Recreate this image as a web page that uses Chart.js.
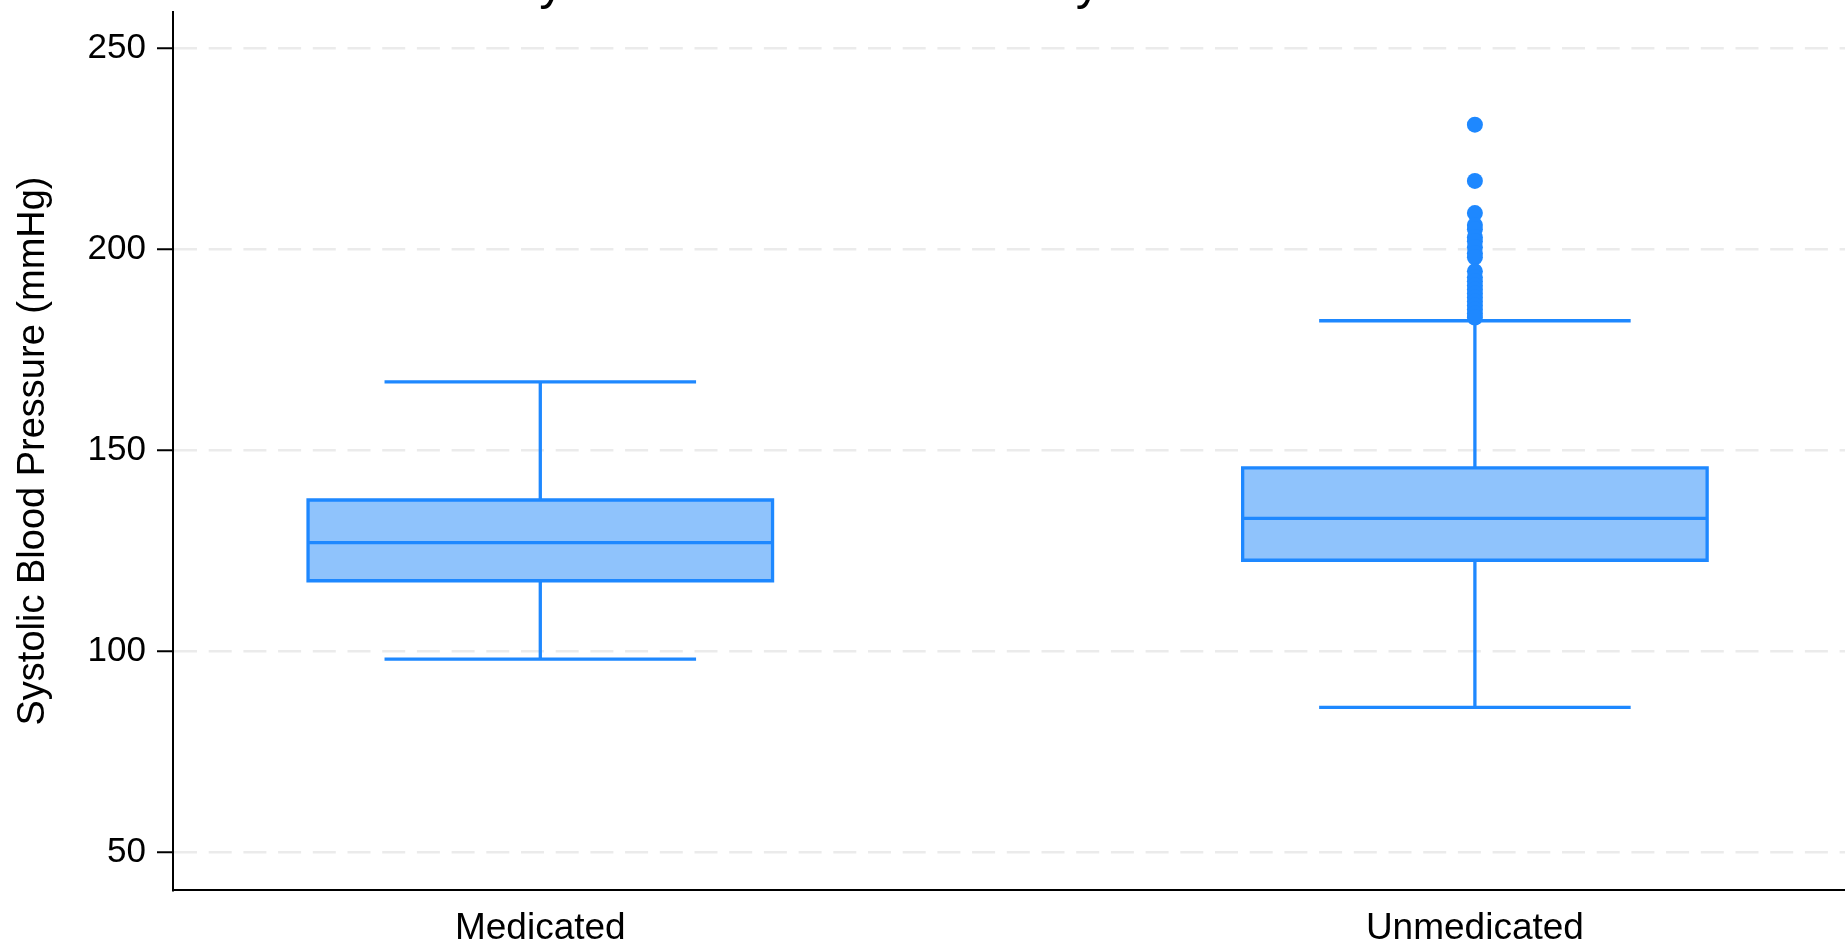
<!DOCTYPE html>
<html>
<head>
<meta charset="utf-8">
<title>Systolic Blood Pressure by Medication Status</title>
<script src="https://cdn.jsdelivr.net/npm/chart.js@4.4.1/dist/chart.umd.min.js"></script>
<style>
  html, body { margin: 0; padding: 0; background: #ffffff; overflow: hidden; }
  canvas { display: block; }
</style>
</head>
<body>
<canvas id="chart" width="1845" height="952"></canvas>
<script>
// Groups and five-number summaries (mmHg)
const groups = ['Medicated', 'Unmedicated'];
const q1 = [117.5, 122.6];
const medians = [127.0, 133.0];
const q3 = [137.6, 145.6];
const whiskerLow = [98.0, 86.0];
const whiskerHigh = [167.0, 182.2];

// Points beyond the upper whisker (Unmedicated group)
const unmedicatedOutliers = [231, 217, 209, 206, 205, 203, 202, 200.5, 199, 198, 194.5,
  193, 192, 191, 190, 189, 188, 187, 186, 185, 184, 183];

const yTicks = [50, 100, 150, 200, 250];
const chartTitle = 'Systolic Blood Pressure by Medication Status';
const yTitle = 'Systolic Blood Pressure (mmHg)';

const strokeBlue = '#1E88FF';
const fillBlue = '#8FC3FC';
const fontFamily = '"Liberation Sans", Arial, Helvetica, sans-serif';

const boxData = groups.map((g, i) => ({ x: i, y: [q1[i], q3[i]] }));
const outlierData = unmedicatedOutliers.map(v => ({ x: 1, y: v }));

// Outlines, medians, whiskers and caps, positioned from the box elements and scales
const boxDetails = {
  id: 'boxDetails',
  afterDatasetDraw(chart, args) {
    if (args.index !== 0) return;
    const { ctx, scales: { x, y } } = chart;
    const meta = chart.getDatasetMeta(0);
    ctx.save();
    ctx.strokeStyle = strokeBlue;
    ctx.lineWidth = 3.3;
    ctx.lineCap = 'butt';
    groups.forEach((g, i) => {
      const bar = meta.data[i];
      const cx = x.getPixelForValue(i);
      const left = bar.x - bar.width / 2;
      const right = bar.x + bar.width / 2;
      const top = y.getPixelForValue(q3[i]);
      const bottom = y.getPixelForValue(q1[i]);
      const capHalf = x.getPixelForValue(i + 1 / 6) - cx;
      const med = y.getPixelForValue(medians[i]);
      const lo = y.getPixelForValue(whiskerLow[i]);
      const hi = y.getPixelForValue(whiskerHigh[i]);
      ctx.beginPath();
      // box outline
      ctx.rect(left, top, right - left, bottom - top);
      // median
      ctx.moveTo(left, med); ctx.lineTo(right, med);
      // whiskers
      ctx.moveTo(cx, top); ctx.lineTo(cx, hi);
      ctx.moveTo(cx, bottom); ctx.lineTo(cx, lo);
      // caps
      ctx.moveTo(cx - capHalf, hi); ctx.lineTo(cx + capHalf, hi);
      ctx.moveTo(cx - capHalf, lo); ctx.lineTo(cx + capHalf, lo);
      ctx.stroke();
    });
    ctx.restore();
  },
  afterDraw(chart) {
    // Title sits above the top edge; only its descenders reach the canvas
    const { ctx, chartArea } = chart;
    ctx.save();
    ctx.fillStyle = '#000000';
    ctx.font = '50px ' + fontFamily;
    ctx.textAlign = 'center';
    ctx.textBaseline = 'alphabetic';
    ctx.fillText(chartTitle, (chartArea.left + chartArea.right) / 2, -1.5);
    ctx.restore();
  }
};

new Chart(document.getElementById('chart'), {
  type: 'bar',
  data: {
    datasets: [
      {
        type: 'bar',
        label: 'IQR',
        data: boxData,
        backgroundColor: fillBlue,
        borderWidth: 0,
        barPercentage: 0.497,
        categoryPercentage: 1,
        order: 2
      },
      {
        type: 'line',
        label: 'Outliers',
        data: outlierData,
        showLine: false,
        pointRadius: 8,
        pointHoverRadius: 8,
        pointBackgroundColor: strokeBlue,
        pointBorderWidth: 0,
        order: 1
      }
    ]
  },
  options: {
    responsive: false,
    animation: false,
    events: [],
    layout: { autoPadding: false, padding: { top: 12, right: 0, bottom: 0, left: 0 } },
    plugins: {
      legend: { display: false },
      tooltip: { enabled: false },
      title: { display: false }
    },
    scales: {
      x: {
        type: 'linear',
        offset: false,
        min: -0.393,
        max: 1.396,
        afterBuildTicks: (scale) => { scale.ticks = groups.map((g, i) => ({ value: i })); },
        afterFit: (scale) => {
          scale.height = 62;
          scale.paddingLeft = 0;
          scale.paddingRight = 0;
        },
        grid: { display: false, drawTicks: false, tickLength: 0, offset: false },
        border: { display: true, color: '#000000', width: 2 },
        ticks: {
          autoSkip: false,
          maxRotation: 0,
          padding: 17,
          color: '#000000',
          font: { family: fontFamily, size: 37 },
          callback: (v) => groups[v] ?? ''
        }
      },
      y: {
        type: 'linear',
        min: 40.55,
        max: 259.03,
        afterBuildTicks: (scale) => { scale.ticks = yTicks.map(v => ({ value: v })); },
        afterFit: (scale) => {
          scale.width = 173;
          scale.paddingTop = 0;
          scale.paddingBottom = 0;
        },
        grid: {
          color: '#EBEBEB',
          lineWidth: 2.5,
          drawTicks: true,
          tickLength: 16,
          tickColor: '#000000',
          tickWidth: 2,
          tickBorderDash: []
        },
        border: { display: true, color: '#000000', width: 2, dash: [23, 11.7] },
        ticks: {
          padding: 11,
          color: '#000000',
          font: { family: fontFamily, size: 35 }
        },
        title: {
          display: true,
          text: yTitle,
          color: '#000000',
          padding: { top: 11, bottom: 0 },
          font: { family: fontFamily, size: 38 }
        }
      }
    }
  },
  plugins: [boxDetails]
});
</script>
</body>
</html>
